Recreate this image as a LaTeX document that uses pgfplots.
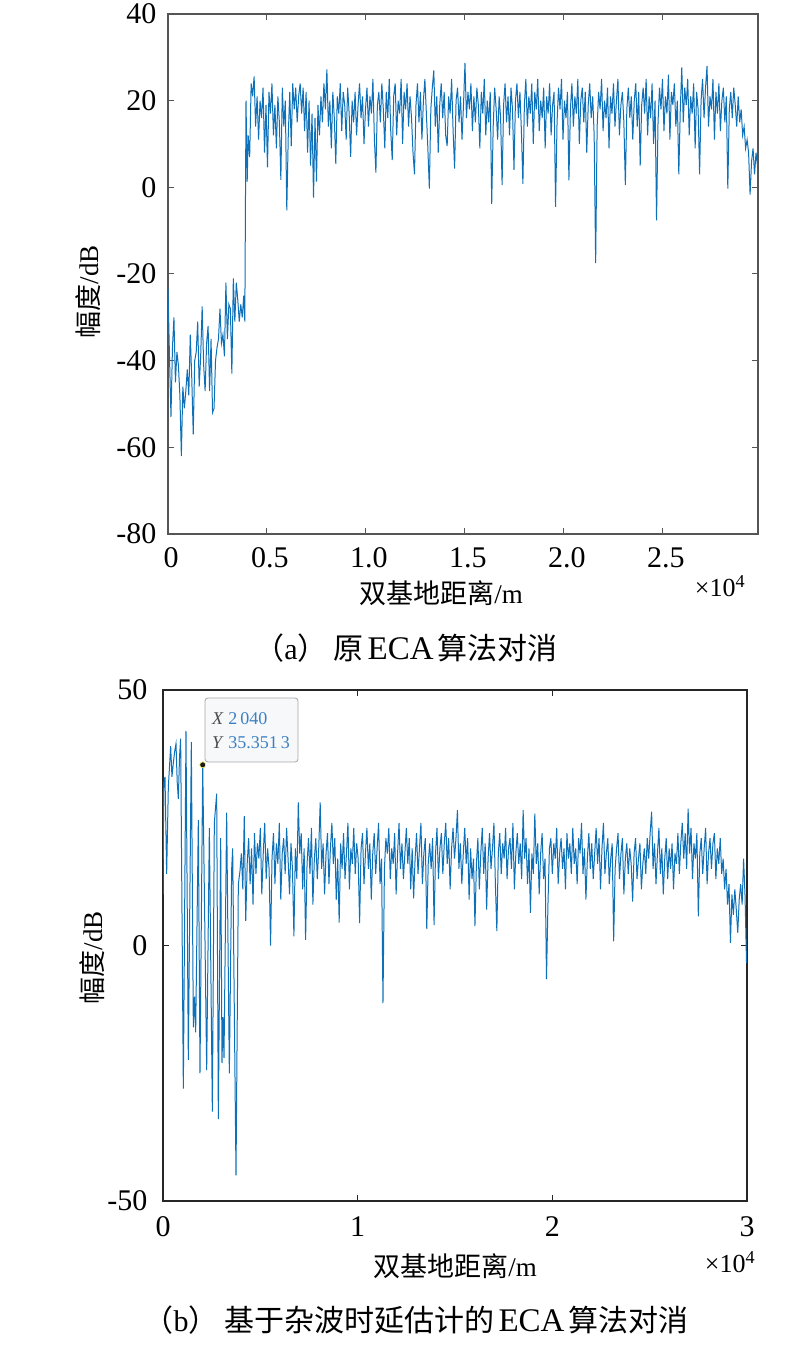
\documentclass[border=0pt]{standalone}
\usepackage{pgfplots}
\pgfplotsset{compat=1.18}
\usepackage{fontspec}
\setmainfont{Liberation Serif}
\newfontfamily\cjk{Noto Sans CJK SC}
\definecolor{mblue}{rgb}{0.05,0.44,0.72}
\definecolor{tipblue}{HTML}{3C80C2}
\definecolor{framegray}{HTML}{555555}
\begin{document}
\begin{tikzpicture}[x=1pt,y=1pt]
\useasboundingbox (0,0) rectangle (803,1349);
% ---------------- (a) ----------------
\begin{axis}[at={(168pt,815pt)}, anchor=south west, scale only axis,
  width=590pt, height=520pt,
  xmin=0, xmax=29800, ymin=-80, ymax=40,
  scaled x ticks=false, scaled y ticks=false,
  xtick={0,5000,10000,15000,20000,25000},
  xticklabels={0,0.5,1.0,1.5,2.0,2.5},
  ytick={-80,-60,-40,-20,0,20,40},
  yticklabels={-80,-60,-40,-20,0,20,40},
  tick align=inside, major tick length=6pt,
  axis line style={line width=1.2pt, draw=framegray},
  every tick/.style={framegray, line width=1pt},
  tick label style={font=\fontsize{30}{30}\selectfont},
  xticklabel style={yshift=-10pt, xshift=3pt},
  yticklabel style={xshift=-8pt}]
\addplot[mblue, line width=1pt] table {
0 -23.5
75 -39
150 -53
225 -37
300 -30
375 -45
450 -38
525 -41
600 -48
675 -62
750 -46
825 -51
900 -47
975 -42
1050 -48
1125 -34
1200 -44
1275 -57
1350 -40
1425 -38
1500 -31
1575 -46
1650 -39
1725 -27.5
1800 -41
1875 -47
1950 -36
2025 -32
2100 -47
2175 -35
2250 -52
2325 -51
2400 -40
2475 -37
2550 -35
2625 -28
2700 -36
2775 -34
2850 -39
2925 -22
3000 -35
3075 -27
3150 -28
3225 -43
3300 -21
3375 -31
3450 -22
3525 -26
3600 -31
3675 -27
3750 -30
3825 -25
3880 -31
3940 20
4000 1.3
4050 12
4125 7
4200 24
4275 21
4350 25.6
4425 14
4500 21
4575 11
4650 20
4725 16
4800 23
4875 8
4950 19
5025 4.6
5100 22
5175 17
5250 24
5325 12
5400 19
5475 9
5550 21
5625 15
5700 1.7
5775 23
5850 14
5925 20
6000 -5.3
6075 12
6150 22
6225 9.5
6300 24
6375 18
6450 23
6525 15
6600 21
6675 24
6750 17
6825 23
6900 13
6975 22
7050 8
7125 20
7200 5
7275 17
7350 -2.4
7425 16
7500 1.3
7575 19
7650 12
7725 21
7800 15
7875 24
7950 18
8025 27.2
8100 14
8175 20
8250 9
8325 22
8400 16
8475 5.4
8550 21
8625 17
8700 24
8775 13
8850 22
8925 19
9000 11
9075 23
9150 17
9225 7
9300 20
9375 15
9450 22
9525 12
9600 19
9675 24
9750 16
9825 21
9900 10
9975 18
10050 23
10125 14
10200 21
10275 17
10350 25
10425 11
10500 3.4
10575 19
10650 22
10725 15
10800 24
10875 18
10950 9
11025 22
11100 16
11175 25
11250 13
11325 6.3
11400 21
11475 24
11550 12
11625 20
11700 17
11775 25
11850 10
11925 22
12000 18
12075 24
12150 14
12225 21
12300 16
12375 8
12450 3
12525 19
12600 24
12675 15
12750 22
12825 11
12900 20
12975 25
13050 17
13125 9
13200 -0.3
13275 18
13350 23
13425 27
13500 14
13575 21
13650 8
13725 19
13800 24
13875 16
13950 22
14025 12
14100 9.5
14175 21
14250 17
14325 25
14400 13
14475 4.3
14550 20
14625 23
14700 15
14775 21
14850 11
14925 19
15000 28.7
15075 16
15150 22
15225 18
15300 24
15375 13
15450 21
15525 15
15600 23
15675 19
15750 9
15825 22
15900 17
15975 25
16050 12
16125 20
16200 15
16275 22
16350 -3.8
16425 14
16500 23
16575 18
16650 11
16725 21
16800 16
16875 0.5
16950 19
17025 24
17100 15
17175 21
17250 12
17325 23
17400 18
17475 4
17550 20
17625 24
17700 16
17775 22
17850 13
17925 0.8
18000 19
18075 25
18150 14
18225 21
18300 17
18375 24
18450 10
18525 22
18600 18
18675 25
18750 13
18825 20
18900 16
18975 23
19050 9
19125 21
19200 17
19275 24
19350 12
19425 19
19500 22
19575 -4.5
19650 15
19725 23
19800 18
19875 25
19950 11
20025 20
20100 16
20175 22
20250 1.6
20325 18
20400 24
20475 14
20550 21
20625 17
20700 25
20775 10
20850 20
20925 23
21000 15
21075 22
21150 8
21225 19
21300 24
21375 16
21450 21
21525 12
21600 -17.5
21675 14
21750 22
21825 18
21900 25
21975 13
22050 20
22125 16
22200 23
22275 9
22350 21
22425 17
22500 24
22575 14
22650 20
22725 25
22800 12
22875 19
22950 22
23025 15
23100 0.5
23175 18
23250 23
23325 16
23400 21
23475 11
23550 20
23625 24
23700 14
23775 22
23850 5
23925 19
24000 23
24075 17
24150 25
24225 12
24300 21
24375 16
24450 24
24525 10
24600 20
24675 -7.6
24750 15
24825 23
24900 18
24975 25
25050 13
25125 21
25200 17
25275 26
25350 11
25425 22
25500 19
25575 24
25650 14
25725 20
25800 3
25875 18
25950 27.7
26025 15
26100 23
26175 19
26250 25
26325 12
26400 21
26475 17
26550 24
26625 9
26700 22
26775 18
26850 3
26925 20
27000 25
27075 16
27150 23
27225 28
27300 14
27375 21
27450 18
27525 25
27600 11
27675 22
27750 17
27825 24
27900 13
27975 20
28050 23
28125 15
28200 21
28275 -0.3
28350 18
28425 22
28500 16
28575 23
28650 19
28725 14
28800 21
28875 15
28950 18
29025 12
29100 14
29175 9
29250 11
29325 8
29400 -1.7
29475 6
29550 9
29625 3
29700 8
29775 5
};
\end{axis}
% ---------------- (b) ----------------
\begin{axis}[at={(163pt,148pt)}, anchor=south west, scale only axis,
  width=584pt, height=511pt,
  xmin=0, xmax=30000, ymin=-50, ymax=50,
  scaled x ticks=false, scaled y ticks=false,
  xtick={0,10000,20000,30000},
  xticklabels={0,1,2,3},
  ytick={-50,0,50},
  yticklabels={-50,0,50},
  tick align=inside, major tick length=6pt,
  axis line style={line width=1.8pt, draw=black!85},
  every tick/.style={black!85, line width=1.5pt},
  tick label style={font=\fontsize{30}{30}\selectfont},
  xticklabel style={yshift=-12pt},
  yticklabel style={xshift=-12pt}]
\addplot[mblue, line width=1pt] table {
0 10
40 31.7
103 33
188 14
274 31
394 39
460 33
530 35.7
600 38
668 39.5
730 32
787 28.7
850 37
907 40.5
1045 -28
1181 42
1301 -22.4
1455 39.8
1558 -16
1620 -10
1678 -17
1815 24.6
1900 -25
2040 35.3513
2244 -24.4
2381 23
2535 -32.5
2637 24
2757 29.7
2843 -34
2963 21
3031 -23
3080 -14
3134 -22
3270 26
3408 -25
3528 15
3579 19
3750 -45
3870 12
3955 14.6
4025 18
4100 11
4175 25.3
4250 4.8
4325 16
4400 21
4475 12
4550 19
4625 8
4700 22
4775 14
4850 20
4925 17
5000 23
5075 10
5150 18
5225 24
5300 13
5375 19
5450 15
5525 0
5600 17
5675 22
5750 12
5825 20
5900 16
5975 24
6050 9
6125 18
6200 21
6275 14
6350 23
6425 17
6500 10
6575 20
6650 15
6725 1.8
6800 19
6875 13
6950 28
7025 18
7100 22
7175 11
7250 19
7325 1.1
7400 16
7475 21
7550 14
7625 23
7700 8
7775 17
7850 21
7925 13
8000 19
8075 28
8150 15
8225 20
8300 10
8375 18
8450 22
8525 12
8600 19
8675 24
8750 16
8825 21
8900 9
8975 17
9050 4.5
9125 20
9200 15
9275 22
9350 13
9425 18
9500 24
9575 11
9650 19
9725 16
9800 23
9875 14
9950 20
10025 17
10100 4.4
10175 19
10250 22
10325 12
10400 18
10475 23
10550 15
10625 20
10700 9
10775 18
10850 22
10925 14
11000 19
11075 24
11150 12
11225 17
11300 -11.3
11375 15
11450 21
11525 18
11600 23
11675 13
11750 19
11825 16
11900 22
11975 10
12050 18
12125 24
12200 15
12275 20
12350 13
12425 18
12500 23
12575 16
12650 21
12725 11
12800 19
12875 9.2
12950 17
13025 22
13100 14
13175 19
13250 24
13325 12
13400 18
13475 21
13550 3.2
13625 16
13700 20
13775 15
13850 21
13925 4
14000 18
14075 23
14150 13
14225 19
14300 22
14375 14
14450 20
14525 24
14600 16
14675 21
14750 11
14825 19
14900 23
14975 17
15050 21
15125 26.5
15200 15
15275 20
15350 12
15425 18
15500 23
15575 16
15650 21
15725 9
15800 19
15875 13
15950 17
16025 3.8
16100 16
16175 21
16250 11
16325 18
16400 23
16475 14
16550 20
16625 7
16700 17
16775 22
16850 15
16925 19
17000 24
17075 12
17150 2.8
17225 18
17300 22
17375 14
17450 20
17525 17
17600 23
17675 13
17750 19
17825 21
17900 15
17975 24
18050 11
18125 18
18200 22
18275 16
18350 20
18425 13
18500 26.5
18575 17
18650 21
18725 12
18800 19
18875 6.4
18950 18
19025 14
19100 25.8
19175 16
19250 20
19325 10
19400 18
19475 22
19550 13
19625 17
19700 -6.6
19775 8
19850 19
19925 21
20000 14
20075 20
20150 17
20225 23
20300 12
20375 18
20450 21
20525 15
20600 19
20675 11
20750 22
20825 17
20900 20
20975 14
21050 23
21125 16
21200 19
21275 12
21350 21
21425 18
21500 24
21575 14
21650 19
21725 9
21800 17
21875 22
21950 15
22025 20
22100 13
22175 18
22250 23
22325 16
22400 21
22475 11
22550 19
22625 24
22700 14
22775 18
22850 21
22925 12
23000 17
23075 20
23150 0.8
23225 15
23300 19
23375 22
23450 13
23525 18
23600 21
23675 10
23750 17
23825 20
23900 14
23975 19
24050 16
24125 8.6
24200 18
24275 21
24350 13
24425 17
24500 20
24575 11
24650 16
24725 19
24800 14
24875 21
24950 17
25025 22
25100 26.2
25175 15
25250 20
25325 12
25400 18
25475 23
25550 14
25625 19
25700 10
25775 17
25850 21
25925 13
26000 19
26075 15
26150 20
26225 11
26300 18
26375 16
26450 22
26525 14
26600 20
26675 24
26750 17
26825 22
26900 15
26975 26.8
27050 18
27125 23
27200 13
27275 20
27350 17
27425 22
27500 5.7
27575 18
27650 21
27725 14
27800 19
27875 23
27950 12
28025 18
28100 21
28175 15
28250 20
28325 22
28400 13
28475 19
28550 16
28625 21
28700 14
28775 17
28850 11
28925 15
29000 8
29075 12
29150 0.5
29225 10
29300 6
29375 11
29450 7
29525 2.5
29600 9
29675 12
29750 8
29825 17
29900 9.6
29975 -3.4
};
\addplot[only marks, mark=*, mark size=3pt, mark options={fill=black!90, draw=yellow!60!white, line width=0.6pt}] coordinates {(2040,35.3513)};
\end{axis}
% data tip box
\draw[rounded corners=3pt, fill={rgb,255:red,247;green,248;blue,250}, draw=black!35, line width=0.8pt] (205,587) rectangle (298,651);
\node[anchor=west, inner sep=0pt, font=\fontsize{18}{18}\selectfont] at (212,630) {{\color{black!70}\textit{X}} {\color{tipblue}2\,040}};
\node[anchor=west, inner sep=0pt, font=\fontsize{18}{18}\selectfont] at (212,606) {{\color{black!70}\textit{Y}} {\color{tipblue}35.351\,3}};
% labels (a)
\node[font=\fontsize{27}{27}\selectfont] at (441,756) {{\cjk 双基地距离}/m};
\node[rotate=90, font=\fontsize{27}{27}\selectfont] at (88,1057) {{\cjk 幅度}/dB};
\node[font=\fontsize{26}{26}\selectfont] at (720,763) {×10\textsuperscript{4}};
\node[font=\fontsize{30}{30}\selectfont] at (406,701) {{\cjk （}a{\cjk ）}\hspace{6pt}{\cjk 原}\hspace{4pt}{\fontsize{33}{33}\selectfont ECA}\hspace{4pt}{\cjk 算法对消}};
% labels (b)
\node[font=\fontsize{27}{27}\selectfont] at (455,83) {{\cjk 双基地距离}/m};
\node[rotate=90, font=\fontsize{27}{27}\selectfont] at (92,391) {{\cjk 幅度}/dB};
\node[font=\fontsize{26}{26}\selectfont] at (730,87) {×10\textsuperscript{4}};
\node[font=\fontsize{30}{30}\selectfont] at (416,29) {{\cjk （}b{\cjk ）}\hspace{6pt}{\cjk 基于杂波时延估计的}\hspace{4pt}{\fontsize{33}{33}\selectfont ECA}\hspace{4pt}{\cjk 算法对消}};
\end{tikzpicture}
\end{document}
